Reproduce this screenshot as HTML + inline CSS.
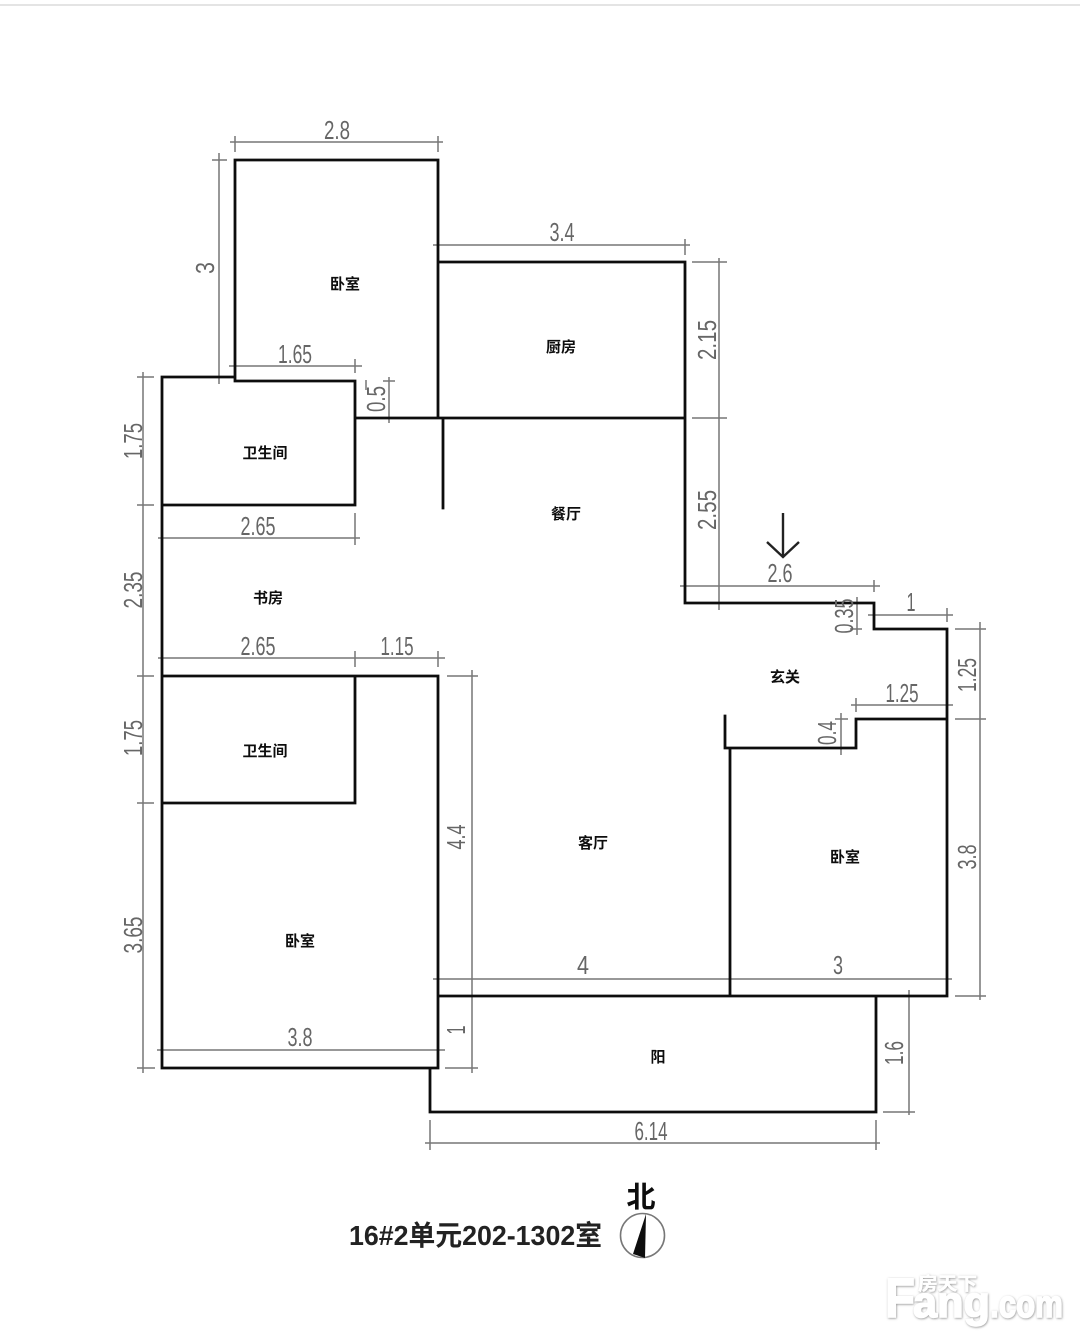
<!DOCTYPE html>
<html><head><meta charset="utf-8"><style>
html,body{margin:0;padding:0;background:#fff;width:1080px;height:1343px;overflow:hidden}
svg{display:block}
.d{font-family:"Liberation Sans",sans-serif;font-size:26px;fill:#666;text-anchor:middle;font-weight:400}
.r{font-family:"Liberation Sans","Noto Sans CJK SC",sans-serif;font-size:15px;fill:#111;text-anchor:middle;font-weight:700}
</style></head><body>
<svg width="1080" height="1343" viewBox="0 0 1080 1343" xmlns="http://www.w3.org/2000/svg">
<rect x="0" y="4" width="1080" height="2" fill="#e4e4e4"/>
<defs>
<filter id="b" x="-5%" y="-5%" width="110%" height="110%"><feGaussianBlur stdDeviation="0.35"/></filter>
<filter id="s" x="-10%" y="-20%" width="120%" height="140%"><feDropShadow dx="0.6" dy="0.8" stdDeviation="1.1" flood-color="#8a8a8a" flood-opacity="0.9"/></filter>
</defs>
<g filter="url(#b)">
<!-- dimension lines -->
<path fill="none" stroke="#777" stroke-width="1.5" d="
M230 142H443 M235 136V152 M438 136V152
M219 153V384 M212 160H227 M212 377H227
M229 366H362 M235 359V374 M355 359V373
M389 377V423 M383 381H395 M383 418H395 M366 380V390
M143 372V1073 M137 377H154 M137 505H154 M137 676H154 M137 803H154 M137 1068H155
M158 538H360 M162 531V545 M355 513V545
M158 658H445 M162 651V665 M355 651V667 M438 651V667
M433 245H690 M438 239V251 M685 239V255
M719 258V608 M692 262H727 M692 418H727 M719 596V610
M680 586H880 M685 580V592 M874 580V592
M857 597V635 M850 603H862 M850 629H862
M868 615H953 M874 608V622 M947 608V622
M980 622V1000 M955 629H986 M955 719H986 M955 996H986
M851 705H953 M856 698V712 M947 698V712
M841 713V755 M835 719H848 M835 748H848
M472 670V1073 M447 676H478 M445 1068H478 M472 992V1000
M433 979H952 M438 973V985 M730 973V985 M947 973V985
M909 990V1115 M883 1112H915 M902 996H915
M157 1050H445 M162 1044V1056 M438 1044V1056
M425 1143H880 M430 1120V1150 M876 1120V1150
"/>
<!-- walls -->
<path fill="none" stroke="#111" stroke-width="2.8" stroke-linecap="square" stroke-linejoin="miter" d="
M235 381V160H438V418
M162 1068V377H235V381H355V505H162
M355 418H685
M443 418V508
M438 262H685V603H874V629H947V996H438
M438 676V1068H162
M162 676H438
M355 676V803H162
M430 1068V1112H876V996
M947 719H856V748H725V716
M730 748V996
"/>
<!-- entry arrow -->
<path fill="none" stroke="#222" stroke-width="2.4" d="M783 513V557 M767 542L783 557L799 542"/>
<!-- dimension labels -->
<text class="d" x="337" y="139" textLength="26" lengthAdjust="spacingAndGlyphs">2.8</text>
<text class="d" transform="translate(214 268) rotate(-90)" textLength="12" lengthAdjust="spacingAndGlyphs">3</text>
<text class="d" x="295" y="363" textLength="34" lengthAdjust="spacingAndGlyphs">1.65</text>
<text class="d" transform="translate(385 399) rotate(-90)" textLength="26" lengthAdjust="spacingAndGlyphs">0.5</text>
<text class="d" transform="translate(142 441) rotate(-90)" textLength="36" lengthAdjust="spacingAndGlyphs">1.75</text>
<text class="d" transform="translate(142 590) rotate(-90)" textLength="37" lengthAdjust="spacingAndGlyphs">2.35</text>
<text class="d" transform="translate(142 738) rotate(-90)" textLength="36" lengthAdjust="spacingAndGlyphs">1.75</text>
<text class="d" transform="translate(142 935) rotate(-90)" textLength="37" lengthAdjust="spacingAndGlyphs">3.65</text>
<text class="d" x="258" y="535" textLength="35" lengthAdjust="spacingAndGlyphs">2.65</text>
<text class="d" x="258" y="655" textLength="35" lengthAdjust="spacingAndGlyphs">2.65</text>
<text class="d" x="397" y="655" textLength="33" lengthAdjust="spacingAndGlyphs">1.15</text>
<text class="d" x="562" y="241" textLength="25" lengthAdjust="spacingAndGlyphs">3.4</text>
<text class="d" transform="translate(716 340) rotate(-90)" textLength="40" lengthAdjust="spacingAndGlyphs">2.15</text>
<text class="d" transform="translate(716 510) rotate(-90)" textLength="40" lengthAdjust="spacingAndGlyphs">2.55</text>
<text class="d" x="780" y="582" textLength="25" lengthAdjust="spacingAndGlyphs">2.6</text>
<text class="d" transform="translate(853 616) rotate(-90)" textLength="35" lengthAdjust="spacingAndGlyphs">0.35</text>
<text class="d" x="911" y="611" textLength="9" lengthAdjust="spacingAndGlyphs">1</text>
<text class="d" transform="translate(976 675) rotate(-90)" textLength="34" lengthAdjust="spacingAndGlyphs">1.25</text>
<text class="d" x="902" y="702" textLength="33" lengthAdjust="spacingAndGlyphs">1.25</text>
<text class="d" transform="translate(836 733) rotate(-90)" textLength="24" lengthAdjust="spacingAndGlyphs">0.4</text>
<text class="d" transform="translate(976 857) rotate(-90)" textLength="25" lengthAdjust="spacingAndGlyphs">3.8</text>
<text class="d" transform="translate(465 837) rotate(-90)" textLength="25" lengthAdjust="spacingAndGlyphs">4.4</text>
<text class="d" transform="translate(465 1030) rotate(-90)" textLength="9" lengthAdjust="spacingAndGlyphs">1</text>
<text class="d" x="583" y="974" textLength="12" lengthAdjust="spacingAndGlyphs">4</text>
<text class="d" x="838" y="974" textLength="10" lengthAdjust="spacingAndGlyphs">3</text>
<text class="d" transform="translate(903 1053) rotate(-90)" textLength="24" lengthAdjust="spacingAndGlyphs">1.6</text>
<text class="d" x="300" y="1046" textLength="25" lengthAdjust="spacingAndGlyphs">3.8</text>
<text class="d" x="651" y="1140" textLength="33" lengthAdjust="spacingAndGlyphs">6.14</text>
<!-- room labels -->
<text class="r" x="345" y="289">卧室</text>
<text class="r" x="561" y="352">厨房</text>
<text class="r" x="265" y="458">卫生间</text>
<text class="r" x="566" y="519">餐厅</text>
<text class="r" x="268" y="603">书房</text>
<text class="r" x="265" y="756">卫生间</text>
<text class="r" x="785" y="682">玄关</text>
<text class="r" x="845" y="862">卧室</text>
<text class="r" x="593" y="848">客厅</text>
<text class="r" x="300" y="946">卧室</text>
<text class="r" x="658" y="1062">阳</text>
<!-- title + compass -->
<text x="349" y="1245" textLength="253" lengthAdjust="spacingAndGlyphs" style="font-family:'Liberation Sans','Noto Sans CJK SC',sans-serif;font-size:28px;font-weight:700;fill:#222">16#2单元202-1302室</text>
<text x="641" y="1207" style="font-family:'Liberation Sans','Noto Sans CJK SC',sans-serif;font-size:29px;font-weight:700;fill:#111;text-anchor:middle">北</text>
<circle cx="642.5" cy="1235.5" r="22" fill="#fff" stroke="#777" stroke-width="1.6"/>
<path d="M646 1214L633 1254L645 1258Z" fill="#111"/>
</g>
<!-- watermark -->
<g filter="url(#s)" style="font-family:'Liberation Sans',sans-serif;font-weight:700;fill:#fff;stroke:#fff;stroke-width:1.5">
<text x="885" y="1317" font-size="56" textLength="30" lengthAdjust="spacingAndGlyphs">F</text>
<text x="913" y="1317" font-size="44" textLength="77" lengthAdjust="spacingAndGlyphs">ang</text>
<text x="990" y="1317" font-size="38" textLength="73" lengthAdjust="spacingAndGlyphs">.com</text>
<text x="918" y="1290" font-size="18" textLength="59" lengthAdjust="spacingAndGlyphs" style="font-family:'Liberation Sans','Noto Sans CJK SC',sans-serif;stroke-width:.4">房天下</text>
</g>
</svg>
</body></html>
